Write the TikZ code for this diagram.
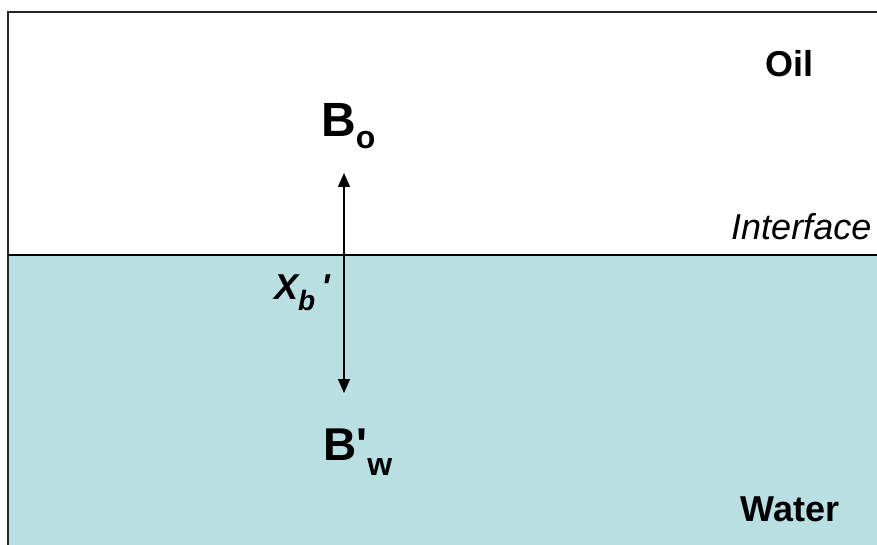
\documentclass[tikz,border=0pt]{standalone}
\usepackage{fontspec}
\setmainfont{Liberation Sans}
\usetikzlibrary{arrows.meta}
\definecolor{water}{RGB}{185,223,227}
\tikzset{
  phase/.style={font=\fontsize{36}{40}\selectfont\bfseries,inner sep=0pt,anchor=base},
  sym/.style={font=\fontsize{48}{52}\selectfont\bfseries,inner sep=0pt,anchor=base west},
}
\newcommand{\subtxt}[3]{\raisebox{-#1pt}{\fontsize{#2}{#2}\selectfont #3}}
\begin{document}
\begin{tikzpicture}[>={Stealth[length=14pt,width=12pt,inset=0pt]},x=1pt,y=-1pt]
\useasboundingbox (0,0) rectangle (877,545);
\fill[water] (8,255) rectangle (880,548);
\draw[line width=1.8pt,black!85] (880,12) -- (8,12) -- (8,548);
\draw[line width=1.3pt] (8,255) -- (880,255);
\node[phase] (oil) at (789,77) {Oil};
\node[phase] (water) at (790,521) {Water};
\node[inner sep=0pt,anchor=base west,font=\fontsize{36}{40}\selectfont\itshape] (iface) at (731,240) {Interface};
\node[sym] (bo) at (321,137) {B\subtxt{12}{32}{o}};
\node[sym,font=\fontsize{46}{50}\selectfont\bfseries] (bw) at (323,460) {B\textquotesingle\subtxt{15}{32}{w}};
\node[sym,font=\fontsize{36}{40}\selectfont\bfseries\itshape] (xb) at (274,299) {X\subtxt{11}{28}{b}\,\textquotesingle};
\coordinate (top) at (344,173);
\coordinate (bot) at (344,393);
\draw[<->,line width=1.3pt] (bot) -- (top);
\end{tikzpicture}
\end{document}
